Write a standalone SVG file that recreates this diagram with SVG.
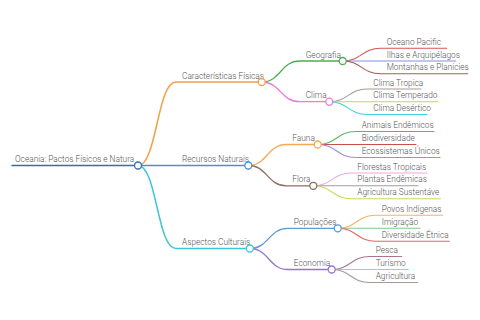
<svg xmlns="http://www.w3.org/2000/svg" width="480" height="320" viewBox="0 0 480 320">
<style>
text{font-family:Roboto,"Liberation Sans",sans-serif;font-weight:300;font-size:8.3px;fill:#555}
path{fill:none;stroke-linecap:round}
.l1{stroke-width:1.5}
.l2{stroke-width:1.3}
.l3{stroke-width:1.1}
circle{fill:#fff;stroke-width:1.3}
</style>
<rect width="480" height="320" fill="#fff"/>
<g id="connectors">
<path class="l1" stroke="#2e70ad" d="M12 165.5 H134.5" stroke-width="1.8"/>
<path class="l1" stroke="#f4a04a" d="M138 165.5 C157 165.5 157 82 176 82 H258.2"/>
<path class="l1" stroke="#4a8fd4" d="M138 165.5 H244.8"/>
<path class="l1" stroke="#3cc6d6" d="M138 165.5 C157 165.5 157 248.5 176 248.5 H246.3"/>
<path class="l2" stroke="#4caf50" d="M261.7 82 C280.7 82 280.7 61 299.7 61 H339.2"/>
<path class="l2" stroke="#e47fd6" d="M261.7 82 C280.7 82 280.7 101.7 299.7 101.7 H325.8"/>
<path class="l2" stroke="#f5a855" d="M248.3 165.5 C267.3 165.5 267.3 144.5 286.3 144.5 H314.2"/>
<path class="l2" stroke="#8d6e63" d="M248.3 165.5 C267.3 165.5 267.3 185.8 286.3 185.8 H309.8"/>
<path class="l2" stroke="#5b9bd5" d="M249.8 248.5 C268.8 248.5 268.8 228.3 287.8 228.3 H334.2"/>
<path class="l2" stroke="#9575cd" d="M249.8 248.5 C268.8 248.5 268.8 269.5 287.8 269.5 H328.2"/>
<path class="l3" stroke="#d9534f" d="M342.7 61 C361.7 61 361.7 48.2 380.7 48.2 H446.7"/>
<path class="l3" stroke="#8c8ce6" d="M342.7 61 H455.7"/>
<path class="l3" stroke="#a0605a" d="M342.7 61 C361.7 61 361.7 73.8 380.7 73.8 H467.7"/>
<path class="l3" stroke="#a89a96" d="M329.3 101.7 C348.3 101.7 348.3 89 367.3 89 H421"/>
<path class="l3" stroke="#c5d65a" d="M329.3 101.7 H438"/>
<path class="l3" stroke="#3fd0e0" d="M329.3 101.7 C348.3 101.7 348.3 114.5 367.3 114.5 H427"/>
<path class="l3" stroke="#5cb85c" d="M317.7 144.5 C336.7 144.5 336.7 131.5 355.7 131.5 H434"/>
<path class="l3" stroke="#c9504a" d="M317.7 144.5 H416"/>
<path class="l3" stroke="#a488e6" d="M317.7 144.5 C336.7 144.5 336.7 157.5 355.7 157.5 H440"/>
<path class="l3" stroke="#f4a6d8" d="M313.3 185.8 C332.3 185.8 332.3 173 351.3 173 H426.7"/>
<path class="l3" stroke="#9e9e9e" d="M313.3 185.8 H418"/>
<path class="l3" stroke="#c8d860" d="M313.3 185.8 C332.3 185.8 332.3 198.8 351.3 198.8 H440.7"/>
<path class="l3" stroke="#f5b560" d="M337.7 228.3 C356.7 228.3 356.7 215.3 375.7 215.3 H442.7"/>
<path class="l3" stroke="#85c785" d="M337.7 228.3 H420"/>
<path class="l3" stroke="#e06666" d="M337.7 228.3 C356.7 228.3 356.7 241.3 375.7 241.3 H449.3"/>
<path class="l3" stroke="#a8788a" d="M331.7 269.5 C350.7 269.5 350.7 256.5 369.7 256.5 H401.7"/>
<path class="l3" stroke="#e8a8c8" d="M331.7 269.5 H408.3"/>
<path class="l3" stroke="#a89898" d="M331.7 269.5 C350.7 269.5 350.7 282.5 369.7 282.5 H417.7"/>
</g>
<g id="root"><text x="15" y="162">Oceania: Pactos Físicos e Natura</text><circle cx="138" cy="165.5" r="3.5" stroke="#2e70ad"/></g>
<g id="caracteristicas"><text x="182" y="78.5">Características Físicas</text><circle cx="261.7" cy="82" r="3.5" stroke="#f4a04a"/></g>
<g id="recursos"><text x="182" y="162">Recursos Naturais</text><circle cx="248.3" cy="165.5" r="3.5" stroke="#4a8fd4"/></g>
<g id="aspectos"><text x="182" y="245">Aspectos Culturais</text><circle cx="249.8" cy="248.5" r="3.5" stroke="#3cc6d6"/></g>
<g id="geografia"><text x="305.7" y="57.5">Geografia</text><circle cx="342.7" cy="61" r="3.5" stroke="#4caf50"/></g>
<g id="clima"><text x="305.7" y="98.2">Clima</text><circle cx="329.3" cy="101.7" r="3.5" stroke="#e47fd6"/></g>
<g id="fauna"><text x="292.3" y="141">Fauna</text><circle cx="317.7" cy="144.5" r="3.5" stroke="#f5a855"/></g>
<g id="flora"><text x="292.3" y="182.3">Flora</text><circle cx="313.3" cy="185.8" r="3.5" stroke="#8d6e63"/></g>
<g id="populacoes"><text x="293.8" y="224.8">Populações</text><circle cx="337.7" cy="228.3" r="3.5" stroke="#5b9bd5"/></g>
<g id="economia"><text x="293.8" y="266">Economia</text><circle cx="331.7" cy="269.5" r="3.5" stroke="#9575cd"/></g>
<g id="oceano"><text x="386.7" y="44.7">Oceano Pacific</text></g>
<g id="ilhas"><text x="386.7" y="57.5">Ilhas e Arquipélagos</text></g>
<g id="montanhas"><text x="386.7" y="70.3">Montanhas e Planícies</text></g>
<g id="tropical"><text x="373.3" y="85.5">Clima Tropica</text></g>
<g id="temperado"><text x="373.3" y="98.2">Clima Temperado</text></g>
<g id="desertico"><text x="373.3" y="111">Clima Desértico</text></g>
<g id="animais"><text x="361.7" y="128">Animais Endêmicos</text></g>
<g id="biodiversidade"><text x="361.7" y="141">Biodiversidade</text></g>
<g id="ecossistemas"><text x="361.7" y="154">Ecossistemas Únicos</text></g>
<g id="florestas"><text x="357.3" y="169.5">Florestas Tropicais</text></g>
<g id="plantas"><text x="357.3" y="182.3">Plantas Endêmicas</text></g>
<g id="agricsust"><text x="357.3" y="195.3">Agricultura Sustentáve</text></g>
<g id="povos"><text x="381.7" y="211.8">Povos Indígenas</text></g>
<g id="imigracao"><text x="381.7" y="224.8">Imigração</text></g>
<g id="diversidade"><text x="381.7" y="237.8">Diversidade Étnica</text></g>
<g id="pesca"><text x="375.7" y="253">Pesca</text></g>
<g id="turismo"><text x="375.7" y="266">Turismo</text></g>
<g id="agricultura"><text x="375.7" y="279">Agricultura</text></g>
</svg>
